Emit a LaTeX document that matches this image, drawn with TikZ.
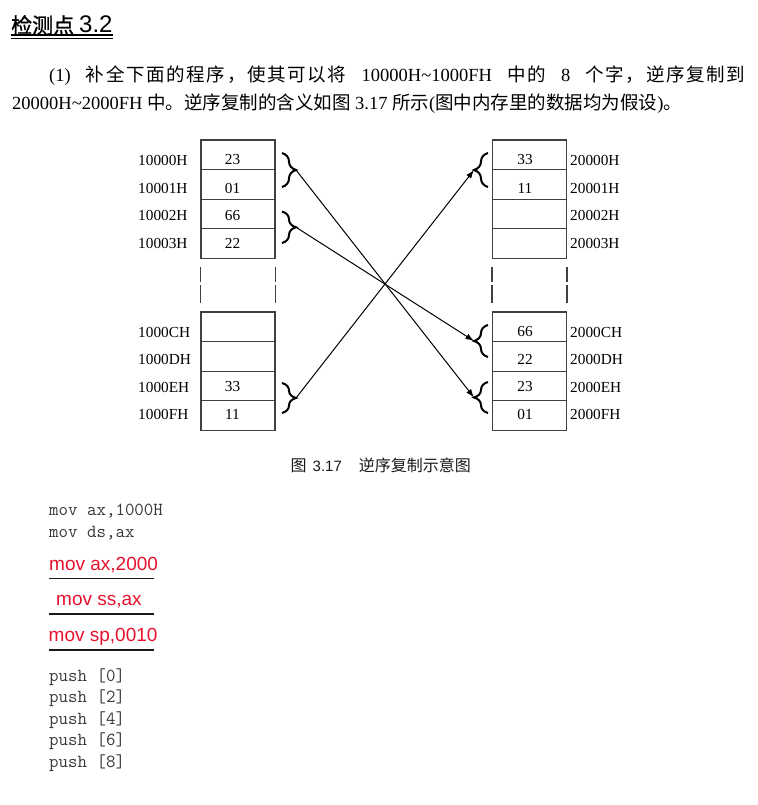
\documentclass[tikz,border=0pt]{standalone}
\usepackage{fontspec}
\setmainfont{Liberation Serif}
\newfontfamily\cjk{Noto Sans CJK SC}
\newfontfamily\cjkwide[LetterSpace=9]{Noto Sans CJK SC}
\newfontfamily\cjktitle[FakeBold=1.2]{Noto Sans CJK SC}
\newfontfamily\arial{Liberation Sans}
\usetikzlibrary{positioning,arrows.meta,decorations.pathreplacing}
\definecolor{ansred}{RGB}{232,17,45}
\newcommand\zh[1]{{\cjk\fontsize{18.5pt}{20pt}\selectfont #1}}
\newcommand\zhw[1]{{\cjkwide\fontsize{18.5pt}{20pt}\selectfont #1}}
\newcommand\zhcap[1]{{\cjk\fontsize{16pt}{18pt}\selectfont #1}}

\def\leftx{238}
\def\rightx{529.5}

\begin{document}
\begin{tikzpicture}[
    x=1pt, y=-1pt,
    cell/.style={draw=black!75, line width=1.3pt, minimum width=74pt, minimum height=29.6pt, inner sep=0pt},
    gapline/.style={draw=black!75, line width=1.4pt, dash pattern=on 15pt off 3pt on 30pt},
    addr/.style={font=\fontsize{15.3pt}{17pt}\selectfont, inner sep=1.5pt, anchor=west},
    val/.style={font=\fontsize{15.3pt}{17pt}\selectfont, inner sep=0pt},
    wbrace/.style={decorate, decoration={brace, amplitude=14pt}, line width=2pt},
    link/.style={-{Latex[length=8.5pt,width=6pt]}, line width=1pt},
    para/.style={font=\fontsize{18.5pt}{20pt}\selectfont, inner sep=0pt, anchor=base west},
    code/.style={font=\ttfamily\fontsize{18.4pt}{20pt}\selectfont, text=black!78, inner sep=0pt, anchor=base west},
    answer/.style={font=\arial\fontsize{19pt}{21pt}\selectfont, text=ansred, inner sep=0pt, anchor=base west},
    ansline/.style={line width=1.4pt, black!90}
]
\useasboundingbox (0,0) rectangle (757,805);

    % Title and task text
    \node[inner sep=0pt, anchor=base west] (T) at (11,33)
        {{\cjktitle\fontsize{21pt}{24pt}\selectfont 检测点}\hspace{5pt}{\arial\fontsize{24pt}{26pt}\selectfont 3.2}};
    \draw[line width=2pt] ([yshift=-2.5pt]T.base west) -- ([yshift=-2.5pt]T.base east);
    \draw[line width=0.8pt] ([yshift=-5.5pt]T.base west) -- ([yshift=-5.5pt]T.base east);

    \node[para] (P1) at (49,82) {\makebox[696pt][s]{(1) \zhw{补全下面的程序，使其可以将} 10000H\textasciitilde{}1000FH \zhw{中的} 8 \zhw{个字，逆序复制到}}};
    \node[para] (P2) at (12,110) {20000H\textasciitilde{}2000FH \zh{中。逆序复制的含义如图} 3.17 \zh{所示}(\zh{图中内存里的数据均为假设})\zh{。}};

    % Draw the memory cells
    \foreach \i/\y in {1/154.8,2/184.4,3/214,4/243.6,5/326.8,6/356.4,7/386,8/415.6} {
        \node[cell] (L-\i) at (\leftx,\y) {};
        \node[cell] (R-\i) at (\rightx,\y) {};
    }

    % Dashed gap between the two groups of cells
    \foreach \c in {L,R} {
        \draw[gapline] ([yshift=-8pt]\c-4.south west) -- ([yshift=8pt]\c-5.north west);
        \draw[gapline] ([yshift=-8pt]\c-4.south east) -- ([yshift=8pt]\c-5.north east);
    }

    % Addresses and data
    \foreach \i/\ty/\la/\ra/\lv/\rv in {1/160/10000H/20000H/23/33, 2/188/10001H/20001H/01/11,
                                       3/215.5/10002H/20002H/66/{}, 4/243/10003H/20003H/22/{},
                                       5/332/1000CH/2000CH/{}/66, 6/359.5/1000DH/2000DH/{}/22,
                                       7/387/1000EH/2000EH/33/23, 8/414/1000FH/2000FH/11/01} {
        \node[addr] (LA-\i) at (136.5,\ty) {\la};
        \node[addr] (RA-\i) at (568.5,\ty) {\ra};
        \node[val] (LV-\i) at (232.5,\ty) {\lv};
        \node[val] (RV-\i) at (525,\ty) {\rv};
    }

    % Braces round each word
    \foreach \n/\a/\b in {1/153/187, 2/211.5/243, 3/383/413} {
        \draw[wbrace] (282,\a) -- (282,\b);
        \coordinate (lb-\n) at (296,{(\a+\b)/2});
    }
    \foreach \n/\a/\b in {1/153/187, 2/325/357, 3/382/413} {
        \draw[wbrace] (488,\b) -- (488,\a);
        \coordinate (rb-\n) at (474,{(\a+\b)/2});
    }

    % Connect the words in reverse order
    \draw[link] (lb-1) -- (rb-3);
    \draw[link] (lb-2) -- (rb-2);
    \draw[link] (lb-3) -- (rb-1);

    % Caption
    \node[inner sep=0pt, anchor=base west, text=black!90] (C) at (290.5,471)
        {\zhcap{图}\hspace{6pt}{\arial\fontsize{15pt}{17pt}\selectfont 3.17}\hspace{17pt}\zhcap{逆序复制示意图}};

    % Program
    \node[code] (M1) at (49,515.5) {mov ax,1000H};
    \node[code] (M2) at (49,537.5) {mov ds,ax};

    \node[answer] (A1) at (49,570) {mov ax,2000};
    \node[answer] (A2) at (56,605.5) {mov ss,ax};
    \node[answer] (A3) at (48.5,641.5) {mov sp,0010};
    \foreach \y in {578.5,614,650}
        \draw[ansline] (48.5,\y) -- (154,\y);

    \foreach \k/\y in {0/681,2/702.5,4/724,6/745.5,8/767}
        \node[code] (S-\k) at (49,\y) {push [\k]};
\end{tikzpicture}
\end{document}
